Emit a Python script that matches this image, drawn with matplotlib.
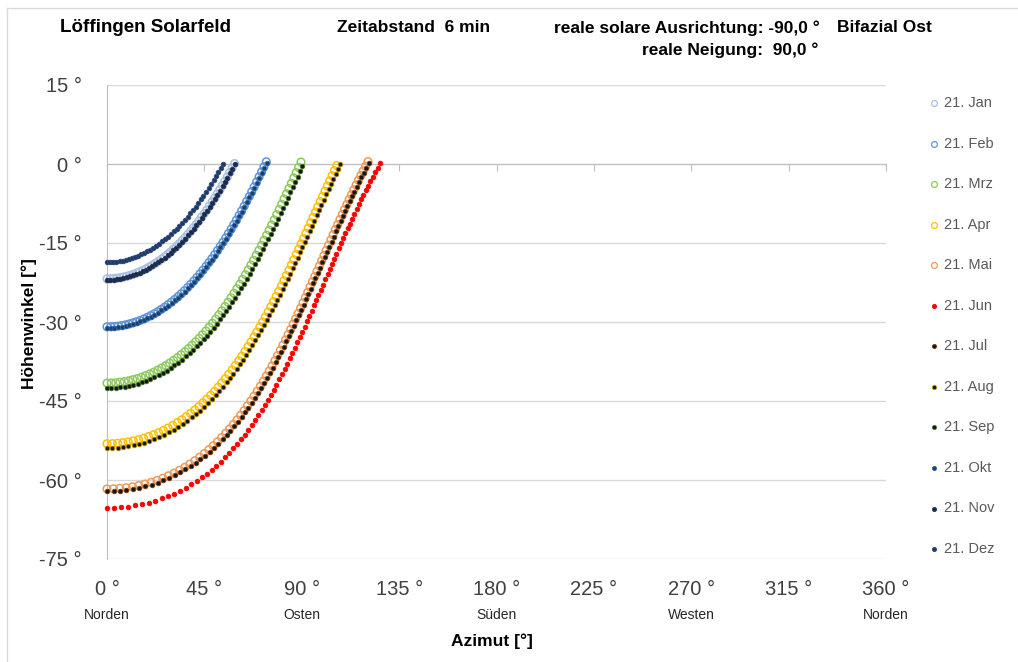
import matplotlib
matplotlib.use('Agg')
import matplotlib.pyplot as plt
from matplotlib.lines import Line2D

plt.rcParams['font.family'] = ['Liberation Sans Narrow', 'Liberation Sans', 'DejaVu Sans']

# Sonnenstand (Azimut / Höhenwinkel), Zeitabstand 6 min
dez_az = [0, 1.45, 2.91, 4.36, 5.81, 7.25, 8.69, 10.13, 11.57, 13.0, 14.42, 15.83, 17.24, 18.64, 20.03,
          21.42, 22.79, 24.16, 25.51, 26.86, 28.19, 29.52, 30.83, 32.13, 33.43, 34.71, 35.98, 37.24,
          38.49, 39.72, 40.95, 42.17, 43.37, 44.56, 45.75, 46.92, 48.09, 49.23, 50.38, 51.51, 52.64, 53.76]
dez_el = [-18.70, -18.69, -18.65, -18.58, -18.49, -18.38, -18.24, -18.08, -17.89, -17.68, -17.43, -17.17,
          -16.89, -16.58, -16.24, -15.89, -15.51, -15.11, -14.69, -14.24, -13.78, -13.29, -12.78, -12.26,
          -11.72, -11.15, -10.57, -9.98, -9.36, -8.72, -8.07, -7.40, -6.72, -6.02, -5.31, -4.58, -3.84,
          -3.08, -2.32, -1.54, -0.74, 0.06]

jan_az = [0, 1.52, 3.03, 4.54, 6.05, 7.56, 9.06, 10.56, 12.05, 13.54, 15.02, 16.49, 17.95, 19.41, 20.85,
          22.29, 23.71, 25.13, 26.54, 27.93, 29.31, 30.68, 32.04, 33.38, 34.72, 36.04, 37.34, 38.64,
          39.93, 41.20, 42.46, 43.70, 44.95, 46.17, 47.38, 48.58, 49.78, 50.96, 52.13, 53.29, 54.44,
          55.58, 56.71, 57.84, 58.96]
jan_el = [-21.80, -21.79, -21.75, -21.68, -21.59, -21.47, -21.33, -21.15, -20.96, -20.73, -20.49, -20.21,
          -19.91, -19.59, -19.24, -18.87, -18.48, -18.07, -17.63, -17.17, -16.69, -16.18, -15.67, -15.12,
          -14.56, -13.98, -13.37, -12.75, -12.12, -11.46, -10.79, -10.10, -9.40, -8.69, -7.95, -7.20,
          -6.44, -5.67, -4.88, -4.08, -3.27, -2.44, -1.61, -0.76, 0.09]

nov_az = [0, 1.52, 3.03, 4.55, 6.06, 7.57, 9.07, 10.57, 12.07, 13.56, 15.04, 16.51, 17.98, 19.44, 20.88,
          22.32, 23.75, 25.17, 26.58, 27.98, 29.36, 30.73, 32.09, 33.44, 34.78, 36.10, 37.41, 38.71,
          40.00, 41.28, 42.54, 43.79, 45.04, 46.26, 47.48, 48.68, 49.88, 51.06, 52.23, 53.39, 54.54,
          55.68, 56.81, 57.94, 59.06]
nov_el = [-22.00, -21.99, -21.95, -21.88, -21.79, -21.67, -21.53, -21.35, -21.16, -20.93, -20.69, -20.41,
          -20.11, -19.79, -19.44, -19.06, -18.67, -18.26, -17.82, -17.36, -16.88, -16.37, -15.86, -15.30,
          -14.74, -14.16, -13.55, -12.93, -12.30, -11.64, -10.97, -10.28, -9.58, -8.86, -8.12, -7.37,
          -6.61, -5.84, -5.05, -4.25, -3.44, -2.61, -1.78, -0.92, -0.07]

feb_az = [0, 1.71, 3.43, 5.14, 6.85, 8.55, 10.24, 11.93, 13.61, 15.29, 16.95, 18.60, 20.23, 21.86, 23.47,
          25.07, 26.65, 28.21, 29.76, 31.30, 32.82, 34.32, 35.81, 37.27, 38.72, 40.16, 41.57, 42.98,
          44.36, 45.73, 47.08, 48.42, 49.74, 51.05, 52.34, 53.62, 54.89, 56.13, 57.37, 58.60, 59.81,
          61.02, 62.20, 63.39, 64.55, 65.72, 66.88, 68.02, 69.16, 70.28, 71.41, 72.52, 73.63]
feb_el = [-30.91, -30.89, -30.85, -30.78, -30.67, -30.53, -30.37, -30.17, -29.95, -29.70, -29.42, -29.11,
          -28.78, -28.42, -28.03, -27.61, -27.17, -26.71, -26.22, -25.72, -25.18, -24.63, -24.05, -23.45,
          -22.83, -22.19, -21.53, -20.85, -20.16, -19.45, -18.72, -17.98, -17.22, -16.44, -15.65, -14.85,
          -14.03, -13.20, -12.36, -11.51, -10.65, -9.77, -8.89, -7.99, -7.09, -6.18, -5.26, -4.32, -3.39,
          -2.45, -1.50, -0.54, 0.42]

okt_az = [0, 1.72, 3.44, 5.16, 6.87, 8.58, 10.28, 11.97, 13.66, 15.34, 17.01, 18.67, 20.31, 21.94, 23.56,
          25.16, 26.75, 28.31, 29.86, 31.40, 32.92, 34.42, 35.91, 37.37, 38.82, 40.26, 41.67, 43.08,
          44.46, 45.83, 47.18, 48.52, 49.84, 51.15, 52.44, 53.72, 54.99, 56.23, 57.47, 58.70, 59.91,
          61.12, 62.30, 63.49, 64.65, 65.82, 66.98, 68.12, 69.26, 70.38, 71.51, 72.62, 73.73]
okt_el = [-31.11, -31.09, -31.05, -30.98, -30.87, -30.73, -30.57, -30.37, -30.15, -29.90, -29.61, -29.30,
          -28.97, -28.61, -28.22, -27.80, -27.36, -26.89, -26.40, -25.90, -25.36, -24.81, -24.22, -23.62,
          -23.00, -22.36, -21.70, -21.02, -20.33, -19.62, -18.89, -18.15, -17.39, -16.61, -15.82, -15.01,
          -14.19, -13.36, -12.52, -11.67, -10.81, -9.93, -9.05, -8.15, -7.25, -6.34, -5.42, -4.48, -3.54,
          -2.60, -1.65, -0.69, 0.27]

mrz_az = [0, 2.01, 4.01, 6.01, 8.00, 9.98, 11.95, 13.92, 15.87, 17.79, 19.71, 21.60, 23.47, 25.33, 27.16,
          28.96, 30.74, 32.50, 34.24, 35.95, 37.63, 39.29, 40.92, 42.53, 44.11, 45.67, 47.20, 48.72,
          50.21, 51.67, 53.12, 54.53, 55.94, 57.31, 58.67, 60.02, 61.34, 62.65, 63.95, 65.21, 66.47,
          67.72, 68.95, 70.17, 71.37, 72.57, 73.76, 74.95, 76.10, 77.26, 78.40, 79.56, 80.70, 81.83,
          82.96, 84.08, 85.20, 86.32, 87.44, 88.55, 89.66]
mrz_el = [-41.60, -41.58, -41.53, -41.44, -41.32, -41.16, -40.96, -40.74, -40.49, -40.19, -39.87, -39.52,
          -39.13, -38.71, -38.27, -37.80, -37.30, -36.77, -36.21, -35.64, -35.04, -34.41, -33.76, -33.10,
          -32.41, -31.70, -30.97, -30.22, -29.45, -28.67, -27.87, -27.06, -26.24, -25.40, -24.55, -23.68,
          -22.81, -21.91, -21.01, -20.11, -19.19, -18.27, -17.33, -16.39, -15.44, -14.48, -13.52, -12.55,
          -11.58, -10.60, -9.62, -8.63, -7.64, -6.64, -5.65, -4.64, -3.65, -2.64, -1.64, -0.64, 0.37]

sep_az = [0, 2.04, 4.07, 6.10, 8.12, 10.13, 12.13, 14.13, 16.11, 18.06, 20.01, 21.92, 23.81, 25.69, 27.54,
          29.36, 31.16, 32.94, 34.70, 36.43, 38.13, 39.80, 41.44, 43.06, 44.65, 46.22, 47.76, 49.29,
          50.79, 52.26, 53.72, 55.14, 56.56, 57.94, 59.31, 60.67, 61.99, 63.31, 64.61, 65.88, 67.14,
          68.39, 69.62, 70.84, 72.04, 73.24, 74.43, 75.62, 76.77, 77.93, 79.07, 80.23, 81.37, 82.50,
          83.63, 84.75, 85.87, 86.99, 88.11, 89.22, 90.33]
sep_el = [-42.59, -42.57, -42.52, -42.43, -42.30, -42.14, -41.94, -41.71, -41.46, -41.16, -40.83, -40.48,
          -40.08, -39.66, -39.21, -38.74, -38.23, -37.69, -37.13, -36.55, -35.94, -35.31, -34.65, -33.98,
          -33.29, -32.57, -31.83, -31.08, -30.30, -29.52, -28.71, -27.89, -27.07, -26.22, -25.37, -24.49,
          -23.61, -22.71, -21.80, -20.90, -19.97, -19.05, -18.11, -17.16, -16.21, -15.25, -14.28, -13.31,
          -12.34, -11.35, -10.37, -9.38, -8.39, -7.39, -6.40, -5.38, -4.39, -3.38, -2.38, -1.38, -0.37]

apr_az = [0, 2.45, 4.90, 7.34, 9.76, 12.16, 14.55, 16.92, 19.24, 21.55, 23.82, 26.05, 28.24, 30.39, 32.50,
          34.58, 36.60, 38.59, 40.54, 42.44, 44.30, 46.12, 47.91, 49.64, 51.35, 53.02, 54.65, 56.25,
          57.81, 59.34, 60.85, 62.31, 63.76, 65.18, 66.57, 67.94, 69.28, 70.60, 71.92, 73.19, 74.47,
          75.71, 76.95, 78.17, 79.37, 80.55, 81.74, 82.90, 84.06, 85.21, 86.35, 87.47, 88.59, 89.71,
          90.82, 91.93, 93.03, 94.14, 95.24, 96.33, 97.42, 98.52, 99.61, 100.71, 101.81, 102.91, 104.01,
          105.11, 106.22]
apr_el = [-53.11, -53.09, -53.02, -52.92, -52.76, -52.57, -52.34, -52.07, -51.75, -51.40, -51.02, -50.59,
          -50.13, -49.65, -49.11, -48.56, -47.97, -47.36, -46.72, -46.06, -45.36, -44.65, -43.91, -43.16,
          -42.38, -41.58, -40.77, -39.94, -39.10, -38.24, -37.37, -36.49, -35.59, -34.68, -33.77, -32.84,
          -31.90, -30.96, -30.00, -29.05, -28.08, -27.10, -26.13, -25.15, -24.16, -23.17, -22.17, -21.18,
          -20.18, -19.18, -18.17, -17.17, -16.17, -15.16, -14.15, -13.15, -12.15, -11.14, -10.14, -9.14,
          -8.14, -7.14, -6.16, -5.16, -4.17, -3.19, -2.22, -1.24, -0.27]

aug_az = [0, 2.49, 4.98, 7.46, 9.92, 12.36, 14.79, 17.19, 19.54, 21.88, 24.18, 26.43, 28.65, 30.83, 32.96,
          35.06, 37.10, 39.11, 41.08, 43.00, 44.88, 46.71, 48.51, 50.25, 51.97, 53.64, 55.27, 56.87,
          58.43, 59.96, 61.47, 62.93, 64.38, 65.80, 67.19, 68.56, 69.90, 71.22, 72.54, 73.81, 75.09,
          76.33, 77.57, 78.79, 79.99, 81.17, 82.36, 83.52, 84.68, 85.83, 86.97, 88.09, 89.21, 90.33,
          91.44, 92.55, 93.64, 94.75, 95.85, 96.94, 98.02, 99.12, 100.20, 101.30, 102.39, 103.49, 104.58,
          105.68, 106.78, 107.90]
aug_el = [-53.96, -53.94, -53.87, -53.76, -53.60, -53.41, -53.17, -52.90, -52.58, -52.22, -51.84, -51.40,
          -50.94, -50.45, -49.91, -49.35, -48.75, -48.13, -47.48, -46.82, -46.11, -45.39, -44.64, -43.88,
          -43.09, -42.28, -41.47, -40.63, -39.79, -38.92, -38.05, -37.16, -36.26, -35.34, -34.43, -33.49,
          -32.55, -31.61, -30.64, -29.69, -28.72, -27.73, -26.76, -25.78, -24.79, -23.80, -22.79, -21.80,
          -20.80, -19.80, -18.79, -17.79, -16.79, -15.78, -14.77, -13.77, -12.77, -11.76, -10.76, -9.76,
          -8.77, -7.77, -6.79, -5.79, -4.80, -3.83, -2.86, -1.88, -0.91, 0.04]

mai_az = [0, 2.98, 5.95, 8.90, 11.82, 14.72, 17.56, 20.36, 23.11, 25.80, 28.43, 31.00, 33.49, 35.93,
          38.28, 40.58, 42.80, 44.97, 47.06, 49.09, 51.07, 52.98, 54.84, 56.64, 58.39, 60.10, 61.75,
          63.37, 64.95, 66.48, 67.98, 69.43, 70.86, 72.25, 73.62, 74.97, 76.29, 77.57, 78.84, 80.09,
          81.31, 82.52, 83.71, 84.89, 86.05, 87.19, 88.33, 89.45, 90.57, 91.67, 92.77, 93.85, 94.93,
          96.01, 97.08, 98.14, 99.20, 100.26, 101.32, 102.37, 103.43, 104.48, 105.53, 106.59, 107.64,
          108.70, 109.76, 110.82, 111.89, 112.96, 114.03, 115.11, 116.20, 117.29, 118.39, 119.50, 120.61]
mai_el = [-61.70, -61.67, -61.59, -61.47, -61.28, -61.05, -60.77, -60.44, -60.07, -59.66, -59.19, -58.70,
          -58.16, -57.59, -56.98, -56.34, -55.67, -54.97, -54.25, -53.51, -52.74, -51.94, -51.13, -50.30,
          -49.45, -48.59, -47.71, -46.81, -45.91, -44.99, -44.06, -43.13, -42.19, -41.22, -40.26, -39.30,
          -38.32, -37.35, -36.36, -35.37, -34.38, -33.38, -32.39, -31.39, -30.39, -29.38, -28.37, -27.37,
          -26.36, -25.36, -24.35, -23.35, -22.35, -21.35, -20.35, -19.35, -18.36, -17.36, -16.38, -15.39,
          -14.41, -13.44, -12.46, -11.50, -10.54, -9.59, -8.63, -7.69, -6.75, -5.83, -4.90, -3.98, -3.08,
          -2.18, -1.30, -0.41, 0.46]

jul_az = [0, 3.01, 6.01, 9.00, 11.95, 14.88, 17.75, 20.57, 23.35, 26.06, 28.71, 31.30, 33.81, 36.27,
          38.63, 40.94, 43.17, 45.35, 47.45, 49.49, 51.48, 53.39, 55.25, 57.05, 58.80, 60.51, 62.16,
          63.77, 65.35, 66.88, 68.38, 69.83, 71.25, 72.64, 74.01, 75.36, 76.67, 77.95, 79.22, 80.47,
          81.69, 82.89, 84.08, 85.26, 86.41, 87.55, 88.69, 89.80, 90.92, 92.02, 93.11, 94.19, 95.27,
          96.34, 97.41, 98.47, 99.52, 100.58, 101.64, 102.69, 103.75, 104.80, 105.84, 106.90, 107.95,
          109.01, 110.06, 111.12, 112.19, 113.26, 114.32, 115.40, 116.49, 117.58, 118.67, 119.78, 120.89]
jul_el = [-62.15, -62.12, -62.04, -61.92, -61.72, -61.49, -61.20, -60.87, -60.50, -60.08, -59.61, -59.11,
          -58.57, -57.99, -57.38, -56.73, -56.06, -55.35, -54.63, -53.89, -53.11, -52.31, -51.49, -50.66,
          -49.81, -48.94, -48.06, -47.16, -46.25, -45.33, -44.40, -43.46, -42.52, -41.55, -40.59, -39.63,
          -38.64, -37.67, -36.68, -35.69, -34.70, -33.70, -32.71, -31.71, -30.71, -29.70, -28.69, -27.69,
          -26.68, -25.68, -24.67, -23.67, -22.67, -21.67, -20.67, -19.67, -18.68, -17.68, -16.71, -15.72,
          -14.74, -13.77, -12.79, -11.83, -10.87, -9.93, -8.97, -8.03, -7.09, -6.17, -5.24, -4.33, -3.43,
          -2.53, -1.65, -0.77, 0.10]

jun_az = [0, 3.30, 6.58, 9.84, 13.06, 16.23, 19.35, 22.39, 25.36, 28.27, 31.08, 33.81, 36.45, 39.01,
          41.47, 43.86, 46.16, 48.38, 50.53, 52.60, 54.60, 56.53, 58.40, 60.21, 61.96, 63.65, 65.30,
          66.90, 68.45, 69.97, 71.43, 72.87, 74.28, 75.64, 76.98, 78.29, 79.58, 80.83, 82.07, 83.28,
          84.48, 85.65, 86.81, 87.96, 89.09, 90.20, 91.31, 92.41, 93.49, 94.57, 95.63, 96.69, 97.74,
          98.79, 99.83, 100.87, 101.91, 102.94, 103.97, 105.00, 106.03, 107.06, 108.09, 109.12, 110.15,
          111.19, 112.22, 113.26, 114.30, 115.34, 116.39, 117.45, 118.51, 119.58, 120.65, 121.73, 122.82,
          123.91, 125.01, 126.12]
jun_el = [-65.31, -65.28, -65.19, -65.04, -64.84, -64.59, -64.28, -63.92, -63.51, -63.06, -62.57, -62.02,
          -61.45, -60.84, -60.19, -59.50, -58.78, -58.05, -57.28, -56.49, -55.68, -54.85, -54.01, -53.14,
          -52.26, -51.38, -50.47, -49.55, -48.61, -47.68, -46.72, -45.77, -44.80, -43.83, -42.85, -41.87,
          -40.88, -39.89, -38.90, -37.90, -36.90, -35.89, -34.89, -33.89, -32.88, -31.88, -30.87, -29.87,
          -28.86, -27.86, -26.86, -25.86, -24.86, -23.87, -22.88, -21.88, -20.90, -19.91, -18.94, -17.96,
          -17.00, -16.04, -15.07, -14.12, -13.17, -12.23, -11.30, -10.37, -9.45, -8.53, -7.63, -6.74,
          -5.85, -4.97, -4.10, -3.24, -2.39, -1.55, -0.72, 0.10]

x_ticks = [0, 45, 90, 135, 180, 225, 270, 315, 360]
y_ticks = [-75, -60, -45, -30, -15, 0, 15]
richtungen = ['Norden', 'Osten', 'Süden', 'Westen', 'Norden']
richtung_az = [0, 90, 180, 270, 360]

W, H = 1018, 662
fig = plt.figure(figsize=(W / 100, H / 100), dpi=100)
ax = fig.add_axes([107 / W, 1 - 559 / H, 779 / W, 474 / H])

# Reihenfolge wie in Excel: Jan..Dez (spätere liegen oben)
ringe = dict(marker='o', s=30, linewidths=1.1, facecolors='none')
punkte = dict(marker='o', s=11, linewidths=0.6)
serien = [
    ('21. Jan', jan_az, jan_el, dict(ringe, edgecolors='#A9C0E4')),
    ('21. Feb', feb_az, feb_el, dict(ringe, edgecolors='#5F95DA')),
    ('21. Mrz', mrz_az, mrz_el, dict(ringe, edgecolors='#8DC95B')),
    ('21. Apr', apr_az, apr_el, dict(ringe, edgecolors='#FFC000')),
    ('21. Mai', mai_az, mai_el, dict(ringe, edgecolors='#EF9A58')),
    ('21. Jun', jun_az, jun_el, dict(punkte, facecolors='#FF0000', edgecolors='#FF0000')),
    ('21. Jul', jul_az, jul_el, dict(punkte, facecolors='#151515', edgecolors='#7A4318')),
    ('21. Aug', aug_az, aug_el, dict(punkte, facecolors='#151515', edgecolors='#B88A00')),
    ('21. Sep', sep_az, sep_el, dict(punkte, facecolors='#151515', edgecolors='#4C7A2C')),
    ('21. Okt', okt_az, okt_el, dict(punkte, facecolors='#1F3F66', edgecolors='#2E6AAE')),
    ('21. Nov', nov_az, nov_el, dict(punkte, facecolors='#1C2B48', edgecolors='#22375E')),
    ('21. Dez', dez_az, dez_el, dict(punkte, facecolors='#213A63', edgecolors='#2C4B7C')),
]
for i, (lab, az, el, st) in enumerate(serien):
    ax.scatter(az, el, zorder=3 + i, clip_on=False, **st)

ax.set_xlim(0, 360)
ax.set_ylim(-75, 15)

# Achsen im Excel-Stil
ax.spines['top'].set_visible(False)
ax.spines['right'].set_visible(False)
ax.spines['left'].set_color('#BFBFBF')
ax.spines['bottom'].set_position(('data', 0))
ax.spines['bottom'].set_color('#BFBFBF')
ax.set_xticks(x_ticks)
ax.tick_params(axis='x', direction='out', length=5, color='#BFBFBF', labelbottom=False)
ax.set_yticks(y_ticks)
ax.set_yticklabels([f'{v} °' for v in y_ticks])
ax.tick_params(axis='y', length=0, pad=18, labelsize=14.5, labelcolor='#404040')
ax.grid(axis='y', color='#D9D9D9', lw=1)
ax.set_axisbelow(True)

sec = ax.secondary_xaxis('bottom')
sec.set_xticks(x_ticks)
sec.set_xticklabels([f'{v} °' for v in x_ticks])
sec.tick_params(length=0, pad=15, labelsize=14.5, labelcolor='#404040')
sec.spines['bottom'].set_visible(False)

for name, a in zip(richtungen, richtung_az):
    ax.annotate(name, (a, -75), xytext=(0, -56), textcoords='offset pixels',
                ha='center', va='center', fontsize=10, color='#262626', annotation_clip=False)

fig.text(492 / W, 1 - 641 / H, 'Azimut [°]', ha='center', va='center', fontsize=12.5, fontweight='bold')
fig.text(29 / W, 1 - 324 / H, 'Höhenwinkel [°]', ha='center', va='center', rotation=90,
         fontsize=12.5, fontweight='bold')

# Kopfzeile
fig.text(60 / W, 1 - 28 / H, 'Löffingen Solarfeld', ha='left', va='center', fontsize=13.5, fontweight='bold')
fig.text(337 / W, 1 - 28 / H, 'Zeitabstand  6 min', ha='left', va='center', fontsize=12.5, fontweight='bold')
fig.text(820 / W, 1 - 28 / H, 'reale solare Ausrichtung: -90,0 °', ha='right', va='center',
         fontsize=12.5, fontweight='bold')
fig.text(818 / W, 1 - 50 / H, 'reale Neigung:  90,0 °', ha='right', va='center',
         fontsize=12.5, fontweight='bold')
fig.text(837 / W, 1 - 28 / H, 'Bifazial Ost', ha='left', va='center', fontsize=12.5, fontweight='bold')

# Legende rechts
for i, (lab, az, el, st) in enumerate(serien):
    yy = 1 - (103 + i * 40.55) / H
    ring = st.get('facecolors') == 'none'
    fig.add_artist(Line2D([934 / W], [yy], transform=fig.transFigure, ls='none', marker='o',
                          ms=4.2 if ring else 3.0,
                          mfc='none' if ring else st['facecolors'],
                          mec=st['edgecolors'], mew=0.9 if ring else 0.6))
    fig.text(944 / W, yy, lab, ha='left', va='center', fontsize=10.5, color='#595959')

# Rahmen des Diagrammbereichs
fig.add_artist(Line2D([7 / W, 1], [1 - 8 / H, 1 - 8 / H], transform=fig.transFigure, color='#D9D9D9', lw=1))
fig.add_artist(Line2D([7 / W, 7 / W], [0, 1 - 8 / H], transform=fig.transFigure, color='#D9D9D9', lw=1))

fig.savefig('out.png', dpi=100)
